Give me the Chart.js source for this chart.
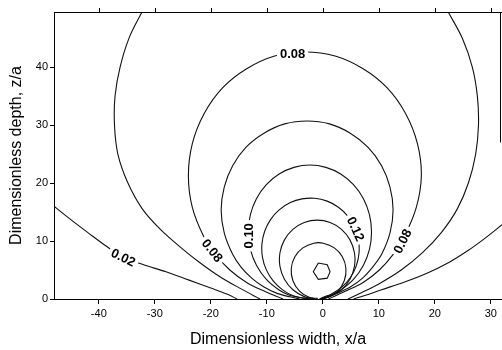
<!DOCTYPE html>
<html>
<head>
<meta charset="utf-8">
<title>Contours</title>
<script src="https://cdn.jsdelivr.net/npm/chart.js@4.4.1/dist/chart.umd.min.js"></script>
<style>
  html, body { margin: 0; padding: 0; background: #fff; }
  #wrap { width: 502px; height: 350px; }
</style>
</head>
<body>
<div id="wrap"><canvas id="contourChart" width="502" height="350"></canvas></div>
<script>
// axis ticks
const xTicks = [-40, -30, -20, -10, 0, 10, 20, 30];
const yTicks = [0, 10, 20, 30, 40];

// contour lines as [x/a, z/a] pairs
const contour002Left = [[-48, 16.0], [-45, 13.7], [-42, 11.5], [-38.5, 9.0], [-35.6, 7.2], [-32, 5.9], [-28, 4.7], [-24, 3.3], [-20, 1.9], [-17, 0.8], [-15.3, 0]];
const contour002Right = [[32, 12.8], [29, 10.5], [26, 8.4], [22.5, 6.3], [18.5, 4.4], [14.5, 2.9], [10.5, 1.6], [7.5, 0.6], [5.5, 0]];
const contourBLeft = [[-32.3, 49.5], [-34.6, 45], [-36.2, 40], [-37.1, 35], [-37.2, 30], [-36.6, 25], [-34.8, 20], [-32.2, 15.5], [-29, 12], [-25.5, 9], [-22, 6.3], [-18.3, 3.8], [-14.5, 1.7], [-11.2, 0]];
const contourBRight = [[22.4, 49.5], [24.9, 45], [26.7, 40], [27.6, 35], [27.8, 30], [27.3, 25], [26, 20], [24, 15.5], [21.2, 11.5], [17.8, 8], [14, 5], [10, 2.6], [6.5, 0.9], [4.5, 0]];
const contour008 = [[-7.1, 0], [-10.3, 1.28], [-13.6, 2.85], [-16.6, 5.0], [-19.1, 7.6], [-21.2, 10.65], [-23.3, 15.8], [-24.0, 21.3], [-23.3, 26.8], [-21.2, 31.95], [-17.9, 36.4], [-13.6, 39.7], [-8.6, 41.9], [-3.2, 42.6], [2.2, 41.9], [7.2, 39.7], [11.5, 36.4], [14.8, 31.95], [16.9, 26.8], [17.6, 21.3], [16.7, 15.8], [14.5, 10.65], [12.5, 7.6], [10.1, 5.0], [7.2, 2.85], [3.9, 1.28], [1.0, 0]];
const contourD = [[-4.1, 0], [-8.05, 0.93], [-10.5, 2.06], [-12.7, 3.6], [-14.6, 5.5], [-16.1, 7.7], [-17.6, 11.4], [-18.15, 15.35], [-17.6, 19.3], [-16.1, 23.0], [-13.7, 26.2], [-10.5, 28.6], [-6.8, 30.2], [-2.8, 30.7], [1.2, 30.2], [4.9, 28.6], [8.05, 26.2], [10.5, 23.0], [12.0, 19.3], [12.55, 15.35], [12.0, 11.4], [10.5, 7.7], [8.9, 5.5], [7.1, 3.6], [4.9, 2.06], [2.45, 0.93], [0, 0]];
const contour010 = [[-2.8, 0], [-6.06, 0.7], [-7.8, 1.55], [-10.08, 3.38], [-11.83, 5.78], [-12.93, 8.56], [-13.3, 11.55], [-12.93, 14.54], [-11.83, 17.33], [-10.08, 19.72], [-7.8, 21.55], [-5.15, 22.7], [-2.3, 23.1], [0.55, 22.7], [3.2, 21.55], [5.48, 19.72], [7.23, 17.33], [8.33, 14.54], [8.7, 11.55], [8.33, 8.56], [7.23, 5.78], [5.48, 3.38], [3.2, 1.55], [1.46, 0.7], [-0.5, 0]];
const contour012 = [[-2.0, 0], [-5.18, 0.52], [-7.19, 1.57], [-8.86, 3.11], [-10.08, 5.02], [-10.77, 7.19], [-10.87, 9.46], [-10.38, 11.68], [-9.33, 13.69], [-7.79, 15.36], [-5.88, 16.58], [-3.71, 17.27], [-1.44, 17.37], [0.78, 16.88], [2.79, 15.83], [4.46, 14.29], [5.68, 12.38], [6.37, 10.21], [6.47, 7.94], [5.98, 5.72], [4.93, 3.71], [3.39, 2.04], [1.48, 0.82], [0.05, 0.3], [-0.6, 0]];
const contour014 = [[-1.4, 0], [-3.31, 0.41], [-5.34, 1.59], [-6.85, 3.4], [-7.65, 5.62], [-7.65, 7.98], [-6.85, 10.2], [-5.34, 12.01], [-3.31, 13.19], [-1.0, 13.6], [1.31, 13.19], [3.34, 12.01], [4.85, 10.2], [5.65, 7.98], [5.65, 5.62], [4.85, 3.4], [3.34, 1.59], [1.31, 0.41], [-0.3, 0]];
const contour016 = [[-0.9, 0.1], [-2.43, 0.29], [-4.21, 1.42], [-5.35, 3.19], [-5.63, 5.27], [-4.99, 7.28], [-3.56, 8.82], [-1.6, 9.63], [0.1, 9.63], [2.06, 8.82], [3.49, 7.28], [4.13, 5.27], [3.85, 3.19], [2.71, 1.42], [0.93, 0.29], [-0.3, 0.1]];
const contour018 = [[-0.8, 6.2], [0.8, 5.9], [1.3, 4.7], [0.8, 3.6], [-0.8, 3.4], [-1.7, 4.7], [-0.8, 6.2]];

// inline contour labels: text, the line it sits on, and where
const labelText = ['0.02', '0.08', '0.10', '0.12', '0.08', '0.08'];
const labelLine = [contour002Left, contour008, contour010, contour012, contour008, contour008];
const labelX = [-35.6, -19.7, -13.25, 5.9, 14.2, -5.4];
const labelY = [7.2, 8.4, 10.9, 12.1, 10.0, 42.3];

const fontFamily = '"Liberation Sans", Arial, Helvetica, sans-serif';

const lines = [
    contour002Left, contour002Right, contourBLeft, contourBRight,
    contour008, contourD, contour010, contour012, contour014, contour016, contour018
];

const datasets = lines.map(pts => ({
    data: pts.map(p => ({ x: p[0], y: p[1] })),
    showLine: true,
    borderColor: '#111',
    borderWidth: 1.1,
    pointRadius: 0,
    tension: pts === contour018 ? 0 : 0.35,
    src: pts
}));

// angle of a line near a given pixel, taken from its own drawn points
function lineAngle(chart, pts, px, py) {
    const idx = chart.data.datasets.findIndex(d => d.src === pts);
    const els = chart.getDatasetMeta(idx).data;
    let best = 0, bestD = Infinity;
    els.forEach((el, i) => {
        const d = (el.x - px) ** 2 + (el.y - py) ** 2;
        if (d < bestD) { bestD = d; best = i; }
    });
    const a = els[Math.max(best - 1, 0)];
    const b = els[Math.min(best + 1, els.length - 1)];
    let ang = Math.atan2(b.y - a.y, b.x - a.x);
    if (ang > Math.PI / 2) ang -= Math.PI;
    if (ang < -Math.PI / 2) ang += Math.PI;
    return ang;
}

const decorations = {
    id: 'decorations',
    afterDatasetsDraw(chart) {
        const { ctx, chartArea: area, scales: { x, y } } = chart;
        ctx.save();

        // labels knocked out of the lines
        ctx.font = 'bold 13px ' + fontFamily;
        ctx.textAlign = 'center';
        ctx.textBaseline = 'middle';
        labelText.forEach((t, i) => {
            const px = x.getPixelForValue(labelX[i]);
            const py = y.getPixelForValue(labelY[i]);
            const ang = lineAngle(chart, labelLine[i], px, py);
            const w = ctx.measureText(t).width;
            ctx.save();
            ctx.translate(px, py);
            ctx.rotate(ang);
            ctx.fillStyle = '#fff';
            ctx.fillRect(-w / 2 - 3, -6, w + 6, 12);
            ctx.fillStyle = '#000';
            ctx.fillText(t, 0, 1);
            ctx.restore();
        });

        // top frame with outward ticks, and the stub of the right frame
        ctx.strokeStyle = '#000';
        ctx.lineWidth = 1;
        ctx.beginPath();
        ctx.moveTo(area.left, area.top + 0.5);
        ctx.lineTo(area.right, area.top + 0.5);
        xTicks.forEach(v => {
            const p = Math.round(x.getPixelForValue(v)) + 0.5;
            ctx.moveTo(p, area.top);
            ctx.lineTo(p, area.top - 4);
        });
        ctx.moveTo(area.right - 1.5, area.top);
        ctx.lineTo(area.right - 1.5, y.getPixelForValue(27));
        ctx.stroke();
        ctx.restore();
    }
};

Chart.defaults.font.family = fontFamily;
Chart.defaults.color = '#000';

new Chart(document.getElementById('contourChart'), {
    type: 'scatter',
    data: { datasets },
    options: {
        responsive: false,
        animation: false,
        devicePixelRatio: 1,
        layout: { padding: { top: 12, right: 0, left: 0, bottom: 0 } },
        plugins: { legend: { display: false }, tooltip: { enabled: false } },
        scales: {
            x: {
                type: 'linear',
                position: 'bottom',
                min: -48,
                max: 32,
                afterBuildTicks: s => { s.ticks = xTicks.map(v => ({ value: v })); },
                afterFit: s => { s.height = 51; },
                grid: { drawOnChartArea: false, drawTicks: true, tickLength: 5, color: '#000' },
                border: { display: true, color: '#000', width: 1 },
                ticks: { color: '#000', font: { size: 11 }, padding: 3, maxRotation: 0, autoSkip: false },
                title: {
                    display: true,
                    text: 'Dimensionless width, x/a',
                    color: '#000',
                    font: { size: 16 },
                    padding: { top: 0, bottom: 1 }
                }
            },
            y: {
                type: 'linear',
                position: 'left',
                min: 0,
                max: 49.5,
                afterBuildTicks: s => { s.ticks = yTicks.map(v => ({ value: v })); },
                afterFit: s => { s.width = 54; },
                grid: { drawOnChartArea: false, drawTicks: true, tickLength: 4, color: '#000' },
                border: { display: true, color: '#000', width: 1 },
                ticks: { color: '#000', font: { size: 11 }, padding: 2, autoSkip: false },
                title: {
                    display: true,
                    text: 'Dimensionless depth, z/a',
                    color: '#000',
                    font: { size: 16 },
                    padding: { top: 7, bottom: 0 }
                }
            }
        }
    },
    plugins: [decorations]
});
</script>
</body>
</html>
